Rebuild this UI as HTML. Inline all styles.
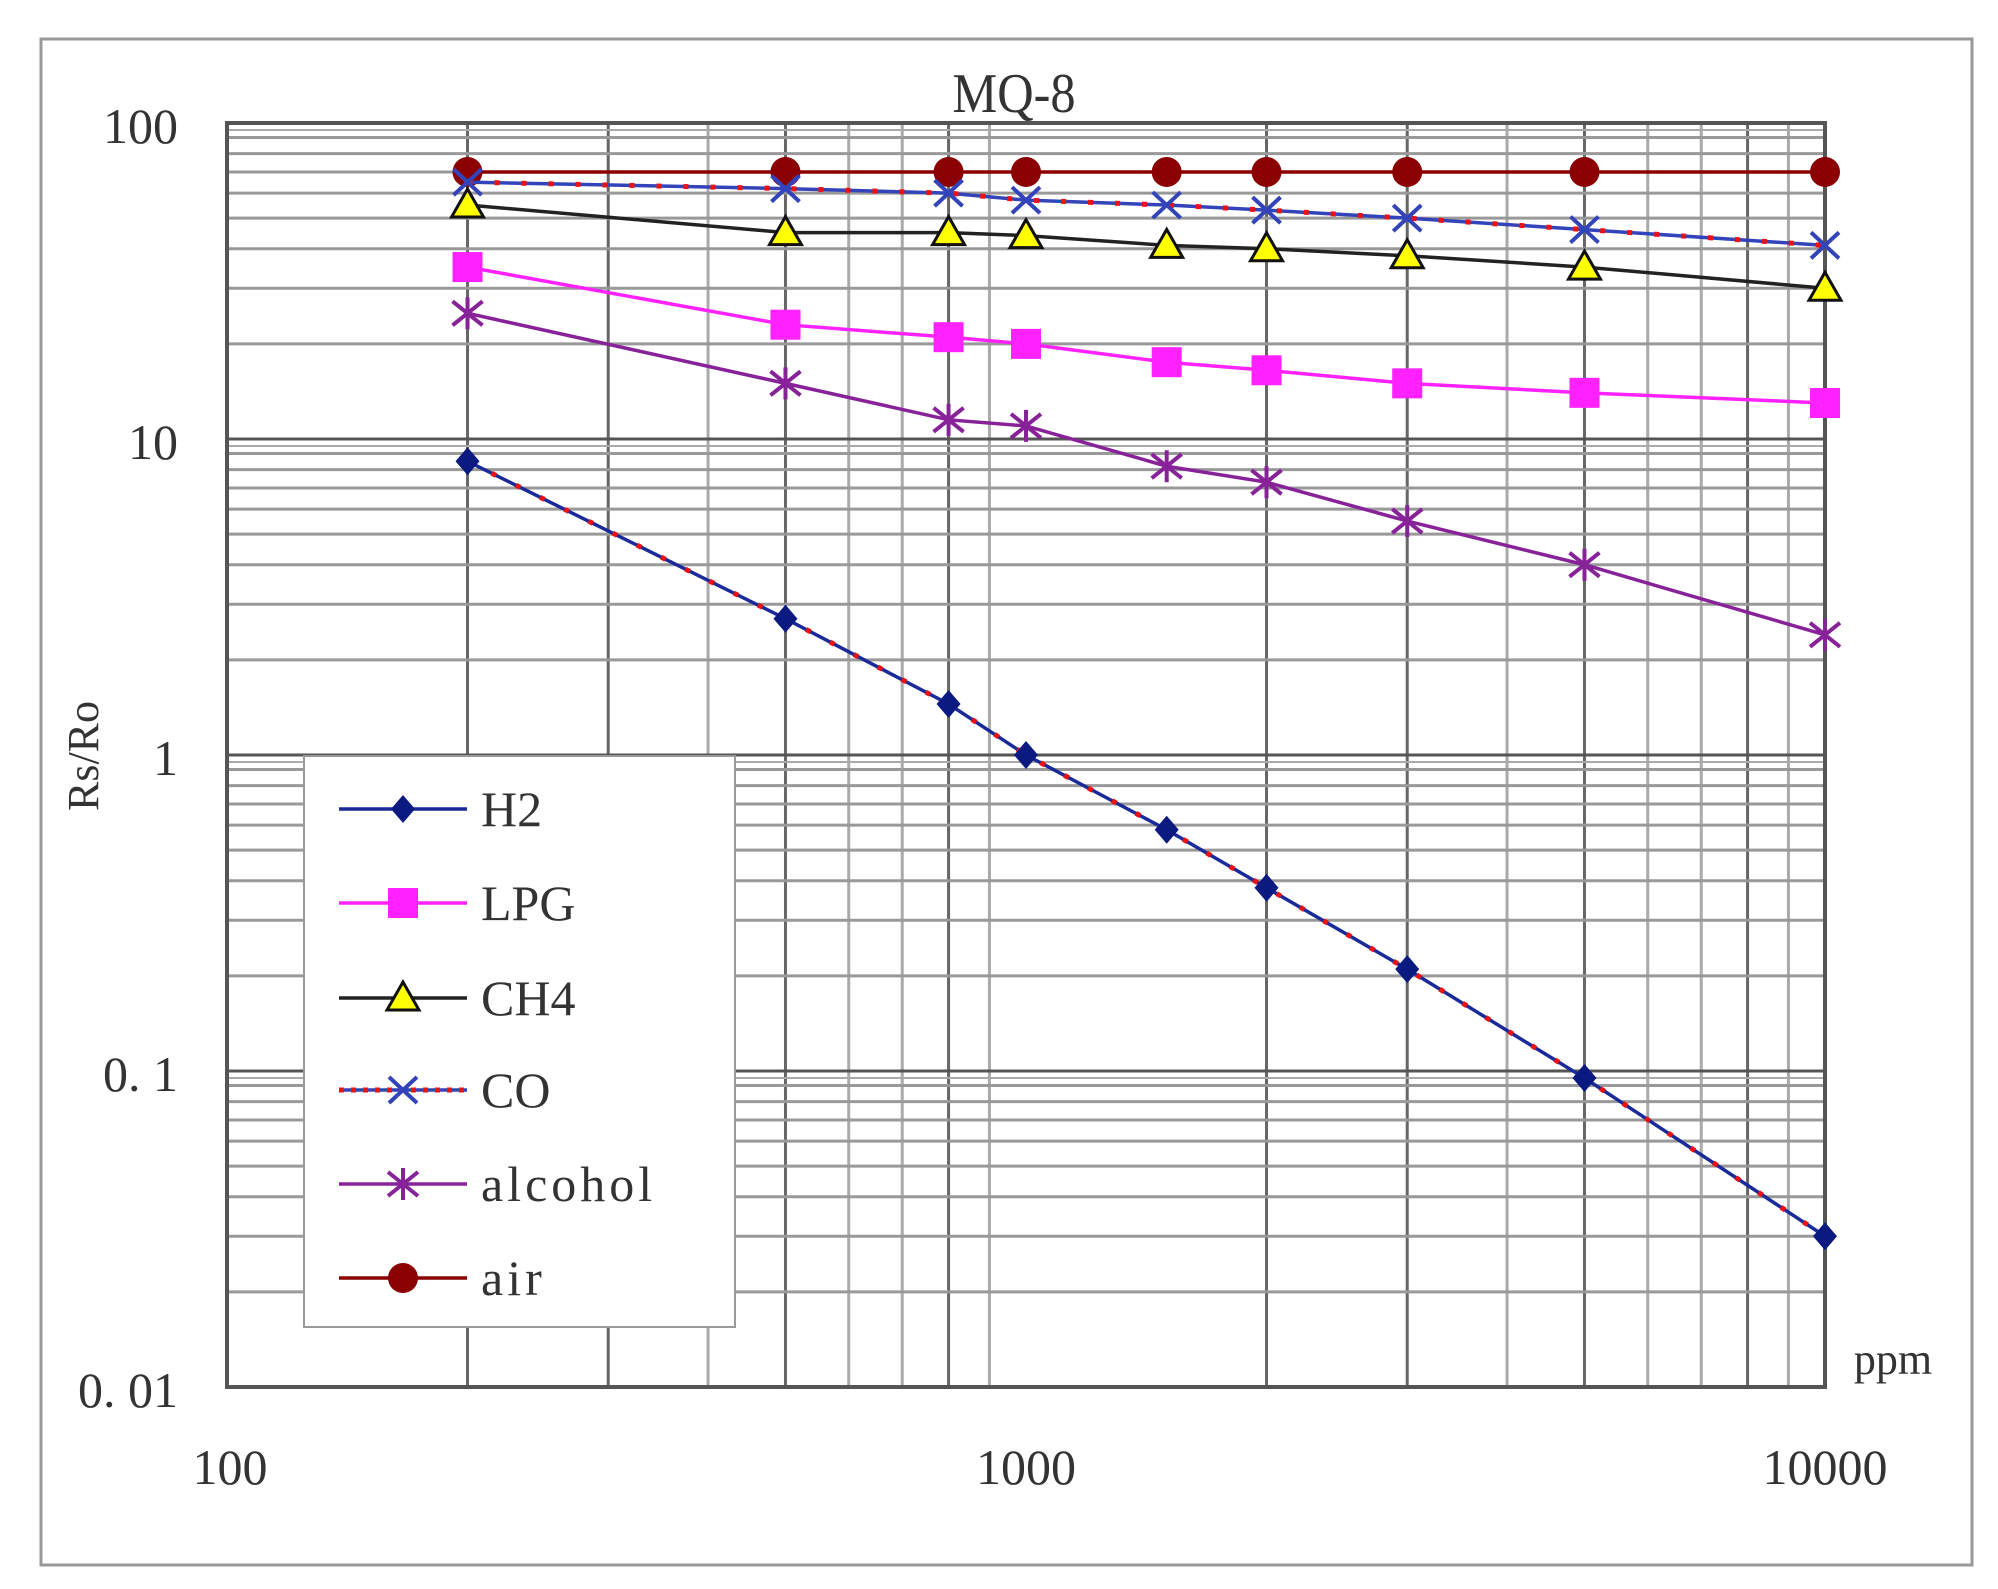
<!DOCTYPE html>
<html><head><meta charset="utf-8"><style>
html,body{margin:0;padding:0;background:#fff;}
svg{display:block;font-family:"Liberation Serif",serif;}
</style></head><body>
<svg id="s" width="1998" height="1589" viewBox="0 0 1998 1589" xmlns="http://www.w3.org/2000/svg">
<rect x="0" y="0" width="1998" height="1589" fill="#fff"/>
<rect x="41" y="39" width="1931" height="1526" fill="none" stroke="#999" stroke-width="3"/>
<g id="grid"></g>
<rect x="227" y="123" width="1598" height="1264" fill="none" stroke="#555" stroke-width="4"/>
<g id="series"></g>
<text x="1014" y="112" font-size="56" text-anchor="middle" fill="#333" transform="translate(1014,0) scale(0.9,1) translate(-1014,0)">MQ-8</text>
<g font-size="50" fill="#333" text-anchor="end">
<text x="178" y="143">100</text>
<text x="178" y="459">10</text>
<text x="178" y="775">1</text>
<text x="178" y="1091">0. 1</text>
<text x="178" y="1407">0. 01</text>
</g>
<g font-size="50" fill="#333" text-anchor="middle">
<text x="230" y="1484">100</text>
<text x="1026" y="1484">1000</text>
<text x="1825" y="1484">10000</text>
</g>
<text x="1893" y="1374" font-size="44" fill="#333" text-anchor="middle">ppm</text>
<text transform="translate(98,756) rotate(-90)" font-size="44" fill="#333" text-anchor="middle">Rs/Ro</text>
<rect x="304" y="756" width="431" height="571" fill="#fff" stroke="#999" stroke-width="2"/>
<g id="legend"></g>
<g font-size="50" fill="#333">
<text x="481" y="826">H2</text>
<text x="481" y="920">LPG</text>
<text x="481" y="1015">CH4</text>
<text x="481" y="1107">CO</text>
<text x="481" y="1201" letter-spacing="4">alcohol</text>
<text x="481" y="1295" letter-spacing="4">air</text>
</g>
</svg>
<script>
var NS="http://www.w3.org/2000/svg";
function el(p,t,a){var e=document.createElementNS(NS,t);for(var k in a)e.setAttribute(k,a[k]);p.appendChild(e);return e;}
function X(p){return 227+(Math.log10(p)-2)*799;}
function Y(v){return 123+(2-Math.log10(v))*316;}
var g=document.getElementById('grid');
for(var d=0;d<2;d++)for(var m=2;m<10;m++){var x=X(m*Math.pow(10,d+2));el(g,'line',{x1:x,x2:x,y1:123,y2:1387,stroke:(m==2||m==3||m==5||m==8)?'#666':'#aaa','stroke-width':3});}
for(var d=0;d<4;d++)for(var m=1;m<10;m++){var y=Y(m*Math.pow(10,d-2));if(m==1)y=Y(Math.pow(10,d-1));el(g,'line',{x1:227,x2:1825,y1:y,y2:y,stroke:(m==1)?'#555':'#999','stroke-width':3});if(m==1){el(g,'line',{x1:227,x2:1825,y1:y+7,y2:y+7,stroke:'#aaa','stroke-width':2});}}
var P=[200,500,800,1000,1500,2000,3000,5000,10000];
var S=[
{v:[70,70,70,70,70,70,70,70,70],c:'#8b0000',m:'circle'},
{v:[65,62,60,57,55,53,50,46,41],c:'#3344bb',m:'x',dash:true},
{v:[55,45,45,44,41,40,38,35,30],c:'#222',m:'tri'},
{v:[35,23,21,20,17.5,16.5,15,14,13],c:'#ff22ff',m:'sq'},
{v:[25,15,11.5,11,8.2,7.3,5.5,4,2.4],c:'#882299',m:'star'},
{v:[8.5,2.7,1.45,1.0,0.58,0.38,0.21,0.095,0.03],c:'#1a2a99',m:'dia',dash:true}
];
function marker(p,m,x,y,c){
 if(m=='circle')el(p,'circle',{cx:x,cy:y,r:15,fill:c});
 else if(m=='sq')el(p,'rect',{x:x-15,y:y-15,width:30,height:30,fill:c});
 else if(m=='tri')el(p,'polygon',{points:(x)+','+(y-16)+' '+(x-16)+','+(y+12)+' '+(x+16)+','+(y+12),fill:'#ff0',stroke:'#111','stroke-width':3});
 else if(m=='dia')el(p,'polygon',{points:x+','+(y-14)+' '+(x+12)+','+y+' '+x+','+(y+14)+' '+(x-12)+','+y,fill:'#0a1a80'});
 else if(m=='x'){el(p,'path',{d:'M'+(x-14)+' '+(y-13)+'L'+(x+14)+' '+(y+13)+'M'+(x+14)+' '+(y-13)+'L'+(x-14)+' '+(y+13),stroke:c,'stroke-width':4,fill:'none'});}
 else if(m=='star'){el(p,'path',{d:'M'+(x-15)+' '+(y-12)+'L'+(x+15)+' '+(y+12)+'M'+(x+15)+' '+(y-12)+'L'+(x-15)+' '+(y+12)+'M'+x+' '+(y-16)+'L'+x+' '+(y+16),stroke:c,'stroke-width':4,fill:'none'});}
}
var s=document.getElementById('series');
S.forEach(function(o){
 var pts=P.map(function(p,i){return X(p)+','+Y(o.v[i]);}).join(' ');
 el(s,'polyline',{points:pts,fill:'none',stroke:o.c,'stroke-width':3.5});
 if(o.dash)el(s,'polyline',{points:pts,fill:'none',stroke:'#ee1111','stroke-width':5,'stroke-dasharray':'5 22'});
 P.forEach(function(p,i){marker(s,o.m,X(p),Y(o.v[i]),o.c);});
});
var L=document.getElementById('legend');
var LG=[[809,'#1a2a99','dia'],[903,'#ff22ff','sq'],[998,'#222','tri'],[1090,'#3344bb','x',1],[1184,'#882299','star'],[1278,'#8b0000','circle']];
LG.forEach(function(a){el(L,'line',{x1:339,x2:467,y1:a[0],y2:a[0],stroke:a[1],'stroke-width':3.5});if(a[3])el(L,'line',{x1:339,x2:467,y1:a[0],y2:a[0],stroke:'#ee1111','stroke-width':5,'stroke-dasharray':'5 7'});marker(L,a[2],403,a[0],a[1]);});
</script>
</body></html>
